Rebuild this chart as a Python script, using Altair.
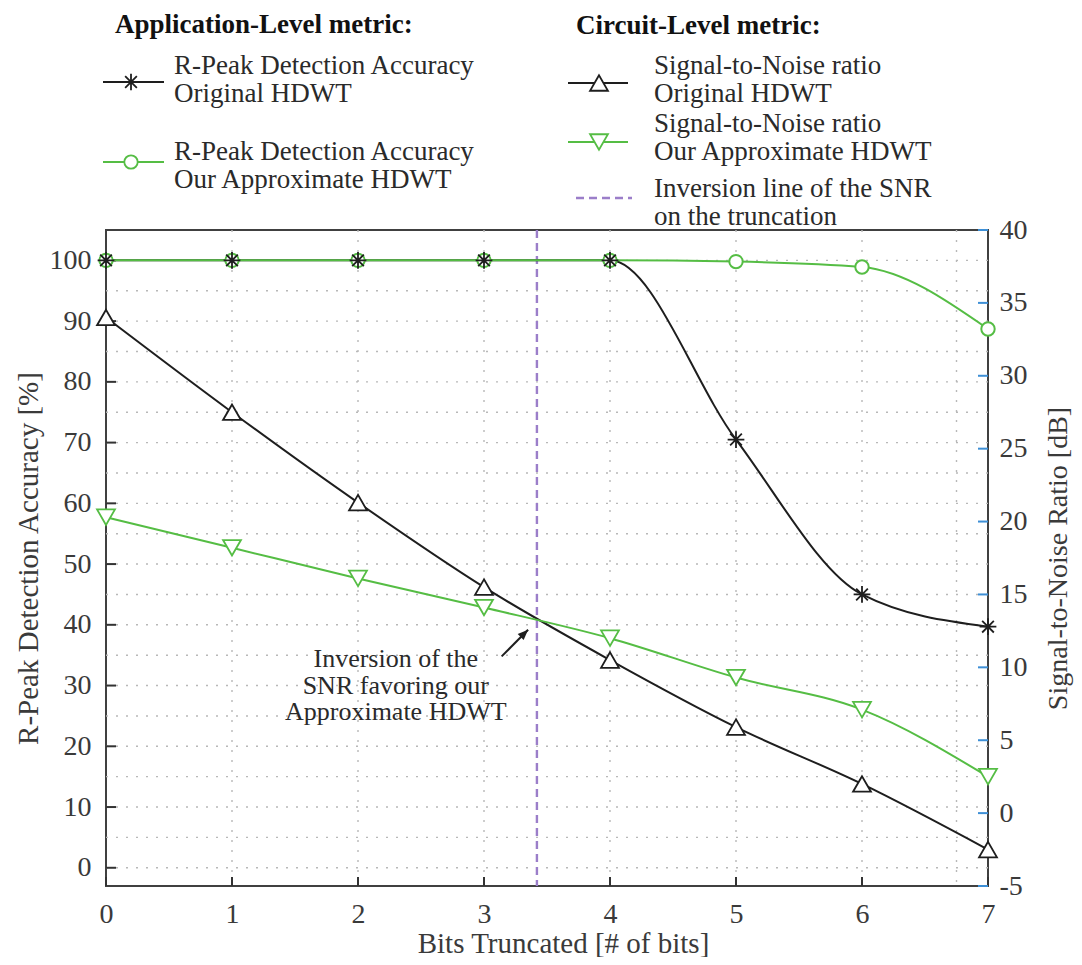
import altair as alt
import pandas as pd

# ---------------- data ----------------
bits = [0, 1, 2, 3, 4, 5, 6, 7]
acc_original = [100, 100, 100, 100, 100, 70.5, 45.0, 39.7]
acc_approx = [100, 100, 100, 100, 100, 99.8, 98.9, 88.7]
snr_original = [34.0, 27.5, 21.3, 15.5, 10.5, 5.9, 2.0, -2.5]
snr_approx = [20.3, 18.2, 16.1, 14.1, 12.0, 9.3, 7.1, 2.5]

acc_ticks = list(range(0, 101, 10))
acc_grid = list(range(0, 101, 5))
snr_ticks = list(range(-5, 41, 5))
x_grid = [1, 2, 3, 4, 5, 6, 6.75]
inversion_x = [3.42]

annotation_lines = ["Inversion of the", "SNR favoring our", "Approximate HDWT"]
annotation_x = [2.3]
annotation_y = [34.3]
arrow_x = [3.14]
arrow_y = [34.8]
arrow_x2 = [3.35]
arrow_y2 = [39.2]

header_app = "Application-Level metric:"
header_circ = "Circuit-Level metric:"
label_acc_orig = ["R-Peak Detection Accuracy", "Original HDWT"]
label_acc_appr = ["R-Peak Detection Accuracy", "Our Approximate HDWT"]
label_snr_orig = ["Signal-to-Noise ratio", "Original HDWT"]
label_snr_appr = ["Signal-to-Noise ratio", "Our Approximate HDWT"]
label_inv = ["Inversion line of the SNR", "on the truncation"]

# ---------------- style ----------------
FONT = "Liberation Serif"
TXT = "#3a3a3a"
BLACK = "#1e1e1e"
GREEN = "#55bd44"
BLUE = "#3d8fd6"
PURPLE = "#9b7ec9"
GRID = "#b8b8b8"
W, H = 882, 656
STAR = "M0,-1L0,1M-1,0L1,0M-0.7,-0.7L0.7,0.7M-0.7,0.7L0.7,-0.7"
ARROW = "M0,0L-0.8,2L0.8,2Z"
LABEL_EXPR = "'' + datum.value"

df = pd.DataFrame({"bits": bits, "acc_o": acc_original, "acc_a": acc_approx,
                   "snr_o": snr_original, "snr_a": snr_approx})

xs = alt.Scale(domain=[0, 7], nice=False, zero=False)
yl = alt.Scale(domain=[-3, 105], nice=False, zero=False)
yr = alt.Scale(domain=[-5, 40], nice=False, zero=False)

x_axis = alt.Axis(values=bits, tickSize=0, domain=False, grid=False, labelFont=FONT,
                  labelFontSize=28, labelColor=TXT, labelPadding=14, labelFlush=False,
                  labelOverlap=False, labelExpr=LABEL_EXPR,
                  title="Bits Truncated [# of bits]", titleFont=FONT,
                  titleFontSize=29, titleFontWeight="normal", titleColor=TXT,
                  titleX=457, titleY=66, titleBaseline="alphabetic", titleAlign="center")
left_axis = alt.Axis(values=acc_ticks, orient="left", tickSize=0, domain=False, grid=False,
                     labelFont=FONT, labelFontSize=28, labelColor=TXT, labelPadding=15,
                     labelOverlap=False, labelExpr=LABEL_EXPR,
                     title="R-Peak Detection Accuracy [%]", titleFont=FONT,
                     titleFontSize=29, titleFontWeight="normal", titleColor=TXT,
                     titleX=-78, titleY=328, titleAngle=270, titleBaseline="middle",
                     titleAlign="center")
right_axis = alt.Axis(values=snr_ticks, orient="right", tickSize=0, domain=False, grid=False,
                      labelFont=FONT, labelFontSize=28, labelColor=TXT, labelPadding=11,
                      labelOverlap=False, labelExpr=LABEL_EXPR,
                      title="Signal-to-Noise Ratio [dB]", titleFont=FONT,
                      titleFontSize=28, titleFontWeight="normal", titleColor=TXT,
                      titleX=70, titleY=328, titleAngle=270, titleBaseline="middle",
                      titleAlign="center")


def XQ(f):
    return alt.X(f, scale=xs, axis=x_axis)


def YL(f):
    return alt.Y(f, scale=yl, axis=left_axis)


def YR(f):
    return alt.Y(f, scale=yr, axis=right_axis)


# ---------------- left (accuracy) group ----------------
hgrid = alt.Chart(pd.DataFrame({"v": acc_grid})).mark_rule(
    color=GRID, strokeDash=[2, 8], strokeWidth=1.4).encode(y=YL("v:Q"))
vgrid = alt.Chart(pd.DataFrame({"v": x_grid})).mark_rule(
    color=GRID, strokeDash=[2, 8], strokeWidth=1.4).encode(x=XQ("v:Q"))
lticks = alt.Chart(pd.DataFrame({"v": acc_ticks})).mark_rule(
    color="#333333", strokeWidth=2).encode(y=YL("v:Q"), x=alt.value(0), x2=alt.value(10))
xticks = alt.Chart(pd.DataFrame({"v": bits})).mark_rule(
    color="#333333", strokeWidth=2).encode(x=XQ("v:Q"), y=alt.value(H), y2=alt.value(H - 9))
inv_line = alt.Chart(pd.DataFrame({"v": inversion_x})).mark_rule(
    color=PURPLE, strokeDash=[8, 5], strokeWidth=2.4).encode(x=XQ("v:Q"))

acc_o_line = alt.Chart(df).mark_line(interpolate="monotone", color=BLACK, strokeWidth=2).encode(
    x=XQ("bits:Q"), y=YL("acc_o:Q"))
acc_a_line = alt.Chart(df).mark_line(interpolate="monotone", color=GREEN, strokeWidth=2).encode(
    x=XQ("bits:Q"), y=YL("acc_a:Q"))
acc_a_pts = alt.Chart(df).mark_point(shape="circle", fill="white", fillOpacity=1, stroke=GREEN,
                                     strokeWidth=2, size=180, opacity=1).encode(
    x=XQ("bits:Q"), y=YL("acc_a:Q"))
acc_o_pts = alt.Chart(df).mark_point(shape=STAR, filled=False, stroke=BLACK, strokeWidth=1.8,
                                     size=280, opacity=1).encode(
    x=XQ("bits:Q"), y=YL("acc_o:Q"))

ann_df = pd.DataFrame({"x": annotation_x, "y": annotation_y})
ann_text = alt.Chart(ann_df).mark_text(font=FONT, fontSize=26, lineHeight=26.5, align="center",
                                       baseline="middle", color="#2a2a2a").encode(
    x=XQ("x:Q"), y=YL("y:Q"), text=alt.value(annotation_lines))
arr_df = pd.DataFrame({"x": arrow_x, "y": arrow_y, "x2": arrow_x2, "y2": arrow_y2})
arr_rule = alt.Chart(arr_df).mark_rule(color=BLACK, strokeWidth=2).encode(
    x=XQ("x:Q"), y=YL("y:Q"), x2="x2:Q", y2="y2:Q")
arr_head = alt.Chart(arr_df).mark_point(shape=ARROW, filled=True, color=BLACK, size=110,
                                        angle=45, opacity=1).encode(
    x=XQ("x2:Q"), y=YL("y2:Q"))

left_group = alt.layer(hgrid, vgrid, lticks, xticks, inv_line, ann_text, arr_rule, arr_head,
                       acc_o_line, acc_a_line, acc_a_pts, acc_o_pts)

# ---------------- right (SNR) group ----------------
rticks = alt.Chart(pd.DataFrame({"v": snr_ticks})).mark_rule(
    color=BLUE, strokeWidth=2).encode(y=YR("v:Q"), x=alt.value(W), x2=alt.value(W - 10))
snr_o_line = alt.Chart(df).mark_line(interpolate="monotone", color=BLACK, strokeWidth=2).encode(
    x=XQ("bits:Q"), y=YR("snr_o:Q"))
snr_a_line = alt.Chart(df).mark_line(interpolate="monotone", color=GREEN, strokeWidth=2).encode(
    x=XQ("bits:Q"), y=YR("snr_a:Q"))
snr_o_pts = alt.Chart(df).mark_point(shape="triangle-up", fill="white", fillOpacity=1, stroke=BLACK,
                                     strokeWidth=1.8, size=320, opacity=1).encode(
    x=XQ("bits:Q"), y=YR("snr_o:Q"))
snr_a_pts = alt.Chart(df).mark_point(shape="triangle-down", fill="white", fillOpacity=1, stroke=GREEN,
                                     strokeWidth=1.8, size=320, opacity=1).encode(
    x=XQ("bits:Q"), y=YR("snr_a:Q"))

right_group = alt.layer(rticks, snr_o_line, snr_a_line, snr_o_pts, snr_a_pts)

# ---------------- custom legend (pixel placed) ----------------
one = pd.DataFrame({"k": [0]})


def ltext(txt, x, y, bold=False, size=27):
    return alt.Chart(one).mark_text(font=FONT, fontSize=size, lineHeight=28, align="left",
                                    baseline="middle", color="#111111" if bold else "#2a2a2a",
                                    fontWeight="bold" if bold else "normal").encode(
        x=alt.value(x), y=alt.value(y), text=alt.value(txt))


def lline(x1, x2, y, color, dash=None, width=2):
    kw = dict(color=color, strokeWidth=width)
    if dash:
        kw["strokeDash"] = dash
    return alt.Chart(one).mark_rule(**kw).encode(x=alt.value(x1), x2=alt.value(x2), y=alt.value(y))


def lmark(x, y, shape, stroke, size, fill="white"):
    if fill is None:
        return alt.Chart(one).mark_point(shape=shape, filled=False, stroke=stroke, strokeWidth=1.8,
                                         size=size, opacity=1).encode(x=alt.value(x), y=alt.value(y))
    return alt.Chart(one).mark_point(shape=shape, fill=fill, fillOpacity=1, stroke=stroke,
                                     strokeWidth=1.8, size=size, opacity=1).encode(
        x=alt.value(x), y=alt.value(y))


legend = alt.layer(
    ltext(header_app, 9, -205, bold=True),
    lline(-3, 58, -148, BLACK), lmark(25, -148, STAR, BLACK, 280, fill=None),
    ltext(label_acc_orig, 68, -164.5),
    lline(-3, 58, -68, GREEN), lmark(25, -68, "circle", GREEN, 180),
    ltext(label_acc_appr, 68, -78.5),
    ltext(header_circ, 470, -204, bold=True),
    lline(462, 522, -147, BLACK), lmark(493, -147, "triangle-up", BLACK, 320),
    ltext(label_snr_orig, 548, -164.5),
    lline(462, 522, -88, GREEN), lmark(493, -88, "triangle-down", GREEN, 320),
    ltext(label_snr_appr, 548, -106.5),
    lline(470, 526, -32, PURPLE, dash=[8, 5], width=2.4),
    ltext(label_inv, 548, -41.5),
)

chart = alt.layer(left_group, right_group, legend).resolve_scale(y="independent").properties(
    width=W, height=H,
    autosize=alt.AutoSizeParams(type="none"),
    padding={"left": 98, "top": 222, "right": 86, "bottom": 71},
).configure_view(stroke="#404040", strokeWidth=2).configure_axis(
    labelFont=FONT, titleFont=FONT)

chart.save("out.html", embed_options={"renderer": "svg", "actions": False})
